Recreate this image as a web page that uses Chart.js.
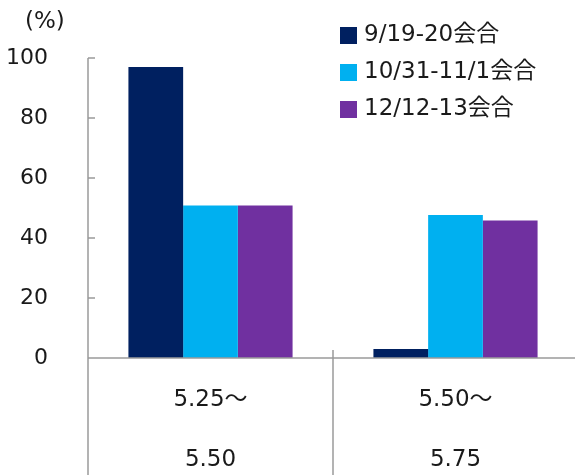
<!DOCTYPE html>
<html>
<head>
<meta charset="utf-8">
<script src="https://cdn.jsdelivr.net/npm/chart.js@4.4.1/dist/chart.umd.min.js"></script>
<style>
  html, body { margin: 0; padding: 0; background: #fff; overflow: hidden; }
  #wrap { width: 580px; height: 475px; }
</style>
</head>
<body>
<div id="wrap"><canvas id="c"></canvas></div>
<script>
  // Rate ranges (%) and probability per meeting.
  var categories = [["5.25〜", "", "5.50"], ["5.50〜", "", "5.75"]];
  var meetings = ["9/19-20会合", "10/31-11/1会合", "12/12-13会合"];
  var sepMeeting = [97, 3];
  var octMeeting = [50.8, 47.7];
  var decMeeting = [50.8, 45.8];
  var yTicks = [0, 20, 40, 60, 80, 100];

  var NAVY = "#002060", CYAN = "#00B0F0", PURPLE = "#7030A0";
  var AXIS = "#9a9a9a", TEXT = "#1a1a1a";
  var FONT = "DejaVu Sans, Verdana, 'Noto Sans CJK JP', sans-serif";

  // Axis lines, inward y ticks, category separators and the "(%)" unit.
  var framePlugin = {
    id: "frame",
    afterDatasetsDraw: function (chart) {
      var ctx = chart.ctx, area = chart.chartArea;
      var x = chart.scales.x, y = chart.scales.y;
      var y0 = y.getPixelForValue(0);
      ctx.save();
      ctx.strokeStyle = AXIS;
      ctx.lineWidth = 1.5;
      ctx.beginPath();
      ctx.moveTo(area.left, area.top);
      ctx.lineTo(area.left, chart.height);
      ctx.moveTo(area.left, y0);
      ctx.lineTo(area.right, y0);
      yTicks.forEach(function (v) {
        var py = y.getPixelForValue(v);
        ctx.moveTo(area.left, py);
        ctx.lineTo(area.left + 7, py);
      });
      for (var i = 1; i < categories.length; i++) {
        var px = (x.getPixelForValue(i - 1) + x.getPixelForValue(i)) / 2;
        ctx.moveTo(px, y0 - 8);
        ctx.lineTo(px, chart.height);
      }
      ctx.stroke();
      ctx.fillStyle = TEXT;
      ctx.font = "23px " + FONT;
      ctx.textAlign = "left";
      ctx.textBaseline = "middle";
      ctx.fillText("(%)", 25, 22);
      ctx.restore();
    }
  };

  // Legend floated over the top-right of the plot.
  var legendPlugin = {
    id: "floatLegend",
    afterDraw: function (chart) {
      var ctx = chart.ctx;
      ctx.save();
      ctx.font = "23px " + FONT;
      ctx.textAlign = "left";
      ctx.textBaseline = "middle";
      chart.data.datasets.forEach(function (ds, i) {
        var cy = 35 + i * 37;
        ctx.fillStyle = ds.backgroundColor;
        ctx.fillRect(340, cy - 8, 17, 17);
        ctx.fillStyle = TEXT;
        ctx.fillText(ds.label, 364, cy);
      });
      ctx.restore();
    }
  };

  new Chart(document.getElementById("c"), {
    type: "bar",
    data: {
      labels: categories,
      datasets: [
        { label: meetings[0], data: sepMeeting, backgroundColor: NAVY },
        { label: meetings[1], data: octMeeting, backgroundColor: CYAN },
        { label: meetings[2], data: decMeeting, backgroundColor: PURPLE }
      ]
    },
    options: {
      responsive: true,
      maintainAspectRatio: false,
      animation: false,
      layout: { padding: { top: 58, right: 2, left: 0, bottom: 0 } },
      datasets: { bar: { categoryPercentage: 0.67, barPercentage: 1.0, borderWidth: 0 } },
      plugins: { legend: { display: false }, tooltip: { enabled: false } },
      scales: {
        x: {
          grid: { display: false },
          border: { display: false },
          ticks: {
            color: TEXT, padding: 19, maxRotation: 0,
            font: { family: FONT, size: 23, lineHeight: 1.3 }
          },
          afterFit: function (s) { s.height = 117; }
        },
        y: {
          min: 0, max: 100,
          grid: { display: false },
          border: { display: false },
          ticks: {
            stepSize: 20, color: TEXT, padding: 32,
            font: { family: FONT, size: 22 }
          },
          afterFit: function (s) { s.width = 88; }
        }
      }
    },
    plugins: [framePlugin, legendPlugin]
  });
</script>
</body>
</html>
